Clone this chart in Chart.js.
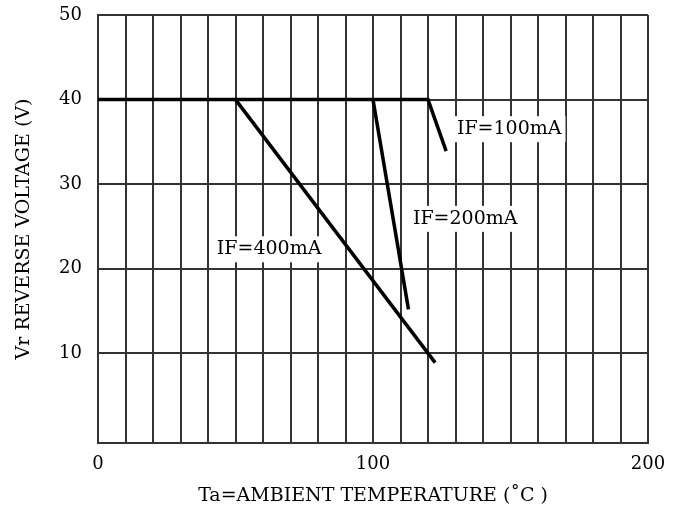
<!DOCTYPE html>
<html>
<head>
<meta charset="utf-8">
<script src="https://cdn.jsdelivr.net/npm/chart.js@4"></script>
<style>
  html, body { margin: 0; background: #fff; }
  #wrap { width: 676px; height: 507px; }
</style>
</head>
<body>
<div id="wrap"><canvas id="derating"></canvas></div>
<script>
// axis ticks
const xLabels = [0, 100, 200];
const yTicks = [10, 20, 30, 40, 50];

// derating curves (Ta, Vr)
const curveNames = ["IF=100mA", "IF=200mA", "IF=400mA"];
const if100 = [{ x: 0, y: 40 }, { x: 120, y: 40 }, { x: 126.6, y: 33.9 }];
const if200 = [{ x: 100, y: 40 }, { x: 112.9, y: 15.2 }];
const if400 = [{ x: 50, y: 40 }, { x: 122.6, y: 8.9 }];

// where the curve names sit (left edge, middle)
const labelSpots = [[130.5, 36.5], [114.5, 25.9], [43.2, 22.3]];

const gridColor = "#333";
const serif = "'DejaVu Serif', 'Liberation Serif', serif";

// curve names with white box behind them, like the scan
const curveLabels = {
  id: "curveLabels",
  afterDatasetsDraw(chart) {
    const { ctx, scales: { x, y } } = chart;
    ctx.save();
    ctx.font = "19px " + serif;
    ctx.textBaseline = "middle";
    ctx.textAlign = "left";
    curveNames.forEach((name, i) => {
      const px = x.getPixelForValue(labelSpots[i][0]);
      const py = y.getPixelForValue(labelSpots[i][1]);
      const w = ctx.measureText(name).width;
      ctx.fillStyle = "#fff";
      ctx.fillRect(px - 4, py - 13, w + 8, 26);
      ctx.fillStyle = "#000";
      ctx.fillText(name, px, py);
    });
    ctx.restore();
  }
};

function curve(data) {
  return {
    data: data,
    showLine: true,
    borderColor: "#000",
    borderWidth: 3.5,
    pointRadius: 0,
    fill: false
  };
}

new Chart(document.getElementById("derating"), {
  type: "scatter",
  data: {
    datasets: [curve(if100), curve(if200), curve(if400)]
  },
  options: {
    responsive: true,
    maintainAspectRatio: false,
    animation: false,
    layout: { padding: { top: 15, right: 28, left: 0, bottom: 0 } },
    plugins: { legend: { display: false }, tooltip: { enabled: false } },
    scales: {
      x: {
        type: "linear",
        min: 0,
        max: 200,
        afterFit: s => { s.height = 64; s.paddingLeft = 0; s.paddingRight = 0; },
        ticks: {
          stepSize: 10,
          autoSkip: false,
          maxRotation: 0,
          padding: 11,
          color: "#000",
          font: { family: serif, size: 18 },
          callback: v => xLabels.includes(v) ? String(v) : ""
        },
        grid: { color: gridColor, lineWidth: 2, drawTicks: false },
        border: { color: gridColor, width: 2 },
        title: {
          display: true,
          text: "Ta=AMBIENT TEMPERATURE (˚C )",
          color: "#000",
          font: { family: serif, size: 19 },
          padding: { top: 0, bottom: 0 }
        }
      },
      y: {
        type: "linear",
        min: -0.6,
        max: 50,
        afterFit: s => { s.width = 98; s.paddingTop = 0; s.paddingBottom = 0; },
        afterBuildTicks: s => { s.ticks = yTicks.map(v => ({ value: v })); },
        ticks: {
          padding: 16,
          color: "#000",
          font: { family: serif, size: 18 }
        },
        grid: { color: gridColor, lineWidth: 2, drawTicks: false },
        border: { color: gridColor, width: 2 },
        title: {
          display: true,
          text: "Vr REVERSE VOLTAGE (V)",
          color: "#000",
          font: { family: serif, size: 19 },
          padding: { top: 13, bottom: 0 }
        }
      }
    }
  },
  plugins: [curveLabels]
});
</script>
</body>
</html>
